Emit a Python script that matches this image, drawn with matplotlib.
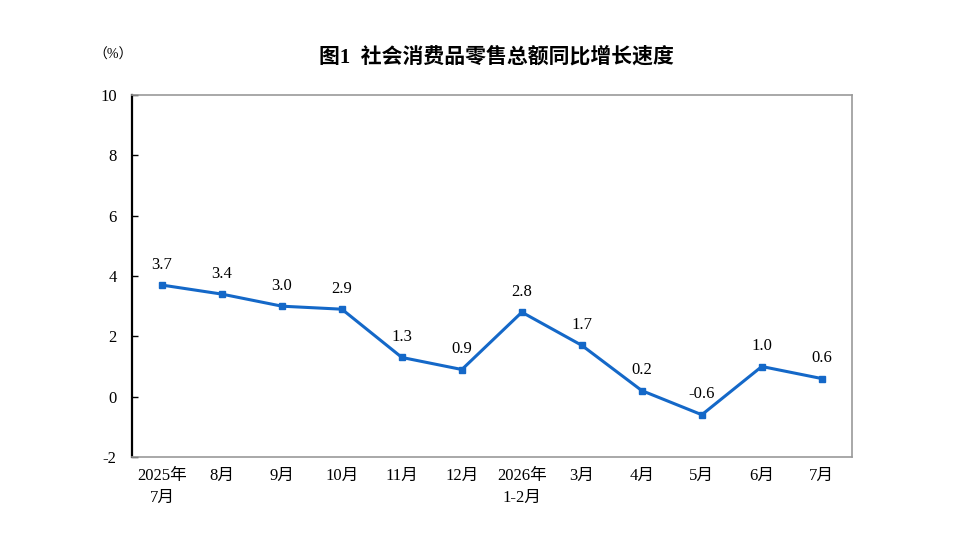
import matplotlib
matplotlib.use("Agg")
import matplotlib.pyplot as plt

meses = ["2025年\n7月", "8月", "9月", "10月", "11月", "12月", "2026年\n1-2月",
         "3月", "4月", "5月", "6月", "7月"]
crecimiento = [3.7, 3.4, 3.0, 2.9, 1.3, 0.9, 2.8, 1.7, 0.2, -0.6, 1.0, 0.6]
yticks = [-2, 0, 2, 4, 6, 8, 10]

plt.rcParams['font.family'] = ['Liberation Serif', 'Noto Sans CJK SC']

fig = plt.figure(figsize=(9.56, 5.37), dpi=100)
ax = fig.add_axes([0.138, 0.149, 0.753, 0.674])

x = list(range(len(crecimiento)))
ax.plot(x, crecimiento, color="#1468c8", linewidth=2.2, marker="s", markersize=5)

for i, v in enumerate(crecimiento):
    ax.annotate(f"{v:.1f}", (i, v), textcoords="offset points", xytext=(0, 9),
                ha="center", va="bottom", fontsize=12)

ax.set_xlim(-0.5, len(crecimiento) - 0.5)
ax.set_ylim(-2, 10)
ax.set_yticks(yticks)
ax.set_yticklabels([str(t) for t in yticks], fontsize=12)
ax.set_xticks(x)
ax.set_xticklabels(meses, fontsize=12, linespacing=1.45)
ax.tick_params(axis="x", length=0, pad=8)
ax.tick_params(axis="y", direction="in", length=4, width=1, pad=11)

for lado in ["top", "right", "bottom"]:
    ax.spines[lado].set_color("#999999")
    ax.spines[lado].set_linewidth(1.2)
ax.spines["left"].set_color("black")
ax.spines["left"].set_linewidth(1.6)

fig.text(0.519, 0.893, "图1  社会消费品零售总额同比增长速度", ha="center", va="center",
         fontsize=15, fontweight="bold")
fig.text(0.118, 0.897, "（%）", ha="center", va="center", fontsize=10)

plt.savefig("out.png", dpi=100)
